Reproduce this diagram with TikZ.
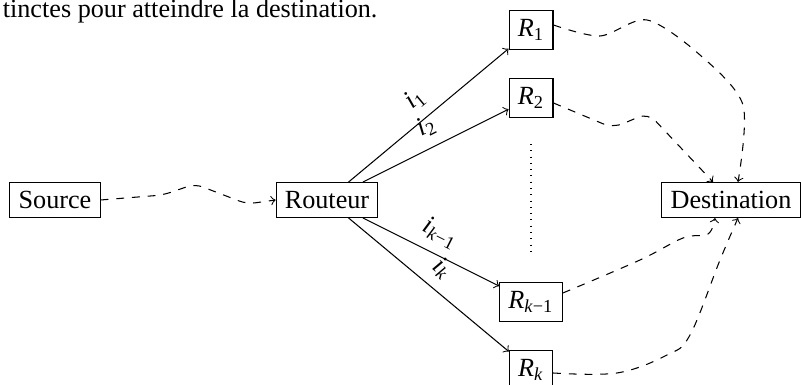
\documentclass[tikz,border=0pt]{standalone}
\usepackage{fontspec}
\setmainfont{Liberation Serif}
\usetikzlibrary{calc}
\newcommand{\Rs}[1]{\textit{R}\textsubscript{#1}}
\newcommand{\Is}[1]{\textit{i}\textsubscript{#1}}
\begin{document}
\begin{tikzpicture}[x=0.3817pt,y=-0.3817pt,
  box/.style={draw, line width=0.4pt},
  lab/.style={midway, above=0.5pt, sloped},
  link/.style={->, dashed}]
\useasboundingbox (0,0) rectangle (801,385);
\node[anchor=base east, inner sep=0pt] (cap) at (378,18) {tinctes pour atteindre la destination.};
\node[box] (src) at (55,200) {Source};
\node[box] (rout) at (327,200) {Routeur};
\node[box] (r1) at (531,30) {\Rs{1}};
\node[box] (r2) at (531,98) {\Rs{2}};
\node[box] (rk1) at (531,302) {\Rs{\textit{k}−1}};
\node[box] (rk) at (531,370) {\Rs{\textit{k}}};
\node[box] (dest) at (731,200) {Destination};
\coordinate (d1) at ($(dest.north)+(7,0)$);
\coordinate (d2) at ($(dest.north)+(-18,0)$);
\coordinate (d3) at ($(dest.south)+(-16,0)$);
\coordinate (d4) at ($(dest.south)+(7,0)$);
\coordinate (s1) at ($(r1.east)+(0,-5)$);
\coordinate (s2) at ($(r2.east)+(0,5)$);
\coordinate (s3) at ($(rk1.east)+(0,-9)$);
\coordinate (s4) at ($(rk.east)+(0,3)$);
\draw[->] (rout) -- node[lab] {\Is{1}} (r1);
\draw[->] (rout) -- node[lab] {\Is{2}} (r2);
\draw[->] (rout) -- node[lab] {\Is{\textit{k}−1}} (rk1);
\draw[->] (rout) -- node[lab] {\Is{\textit{k}}} (rk);
\draw[dotted, shorten <=10pt, shorten >=10pt] (r2) -- (rk1);
\draw[link, rounded corners=3pt] (src.east) -- (163,195) -- (195,184) -- (247,204) -- (rout.west);
\draw[link] plot[smooth, tension=0.5] coordinates {(s1) (600,36) (647,20) (700,55) (743,105) (d1)};
\draw[link, rounded corners=4pt] (s2) -- (613,128) -- (648,113) -- (d2);
\draw[link] plot[smooth, tension=0.6] coordinates {(s3) (640,260) (683,238) (708,234) (d3)};
\draw[link] plot[smooth, tension=0.6] coordinates {(s4) (617,373) (667,355) (690,335) (720,260) (d4)};
\end{tikzpicture}
\end{document}
